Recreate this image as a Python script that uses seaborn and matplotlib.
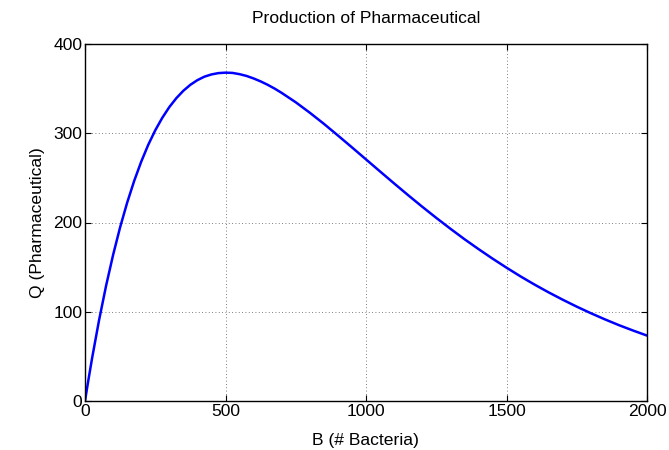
import matplotlib
matplotlib.use("Agg")
import matplotlib.pyplot as plt
import seaborn as sns
import pandas as pd

bacteria = [0, 10, 25, 50, 75, 100, 125, 150, 175, 200, 225, 250, 275, 300, 325,
            350, 375, 400, 425, 450, 475, 500, 525, 550, 575, 600, 625, 650, 675,
            700, 750, 800, 850, 900, 950, 1000, 1050, 1100, 1150, 1200, 1250, 1300,
            1350, 1400, 1450, 1500, 1550, 1600, 1650, 1700, 1750, 1800, 1850, 1900,
            1950, 2000]
pharma = [0, 19.6, 47.6, 90.5, 129.1, 163.7, 194.7, 222.2, 246.6, 268.1, 287.0,
          303.3, 317.3, 329.3, 339.3, 347.6, 354.3, 359.5, 363.4, 365.9, 367.4,
          367.9, 367.6, 366.2, 364.2, 361.4, 358.1, 354.3, 350.0, 345.2, 334.7,
          323.0, 310.6, 297.5, 284.2, 270.7, 257.2, 243.8, 230.6, 217.7, 205.2,
          193.1, 181.4, 170.3, 159.6, 149.4, 139.6, 130.4, 121.7, 113.5, 105.7,
          98.4, 91.5, 85.0, 79.0, 73.3]
xticks = [0, 500, 1000, 1500, 2000]
yticks = [0, 100, 200, 300, 400]

df = pd.DataFrame({"B": bacteria, "Q": pharma})

sns.set_style("white")
plt.rcParams["font.family"] = ["Liberation Sans", "DejaVu Sans"]
plt.rcParams["text.color"] = "black"
plt.rcParams["axes.labelcolor"] = "black"

fig = plt.figure(figsize=(6.69, 4.5), dpi=100)
ax = fig.add_axes([85/669, 1-401/450, (647-85)/669, (401-44)/450])
sns.lineplot(data=df, x="B", y="Q", ax=ax, color=(0, 0, 1), linewidth=1.8)

ax.set_xlim(0, 2000)
ax.set_ylim(0, 400)
ax.set_xticks(xticks)
ax.set_yticks(yticks)
ax.grid(True, linestyle=(0, (1, 3)), color="#555555", linewidth=0.6)
ax.tick_params(direction="in", length=4, width=0.8, labelsize=12.6, colors="black",
               top=True, right=True, bottom=True, left=True, pad=2)
for s in ax.spines.values():
    s.set_visible(True)
    s.set_color("black")
    s.set_linewidth(1.0)
ax.set_xlabel("B (# Bacteria)", fontsize=12.6, labelpad=10, color="black")
ax.set_ylabel("Q (Pharmaceutical)", fontsize=12.6, labelpad=6, color="black")
ax.set_title("Production of Pharmaceutical", fontsize=12.6, pad=15, color="black")

fig.savefig("out.png", dpi=100)
